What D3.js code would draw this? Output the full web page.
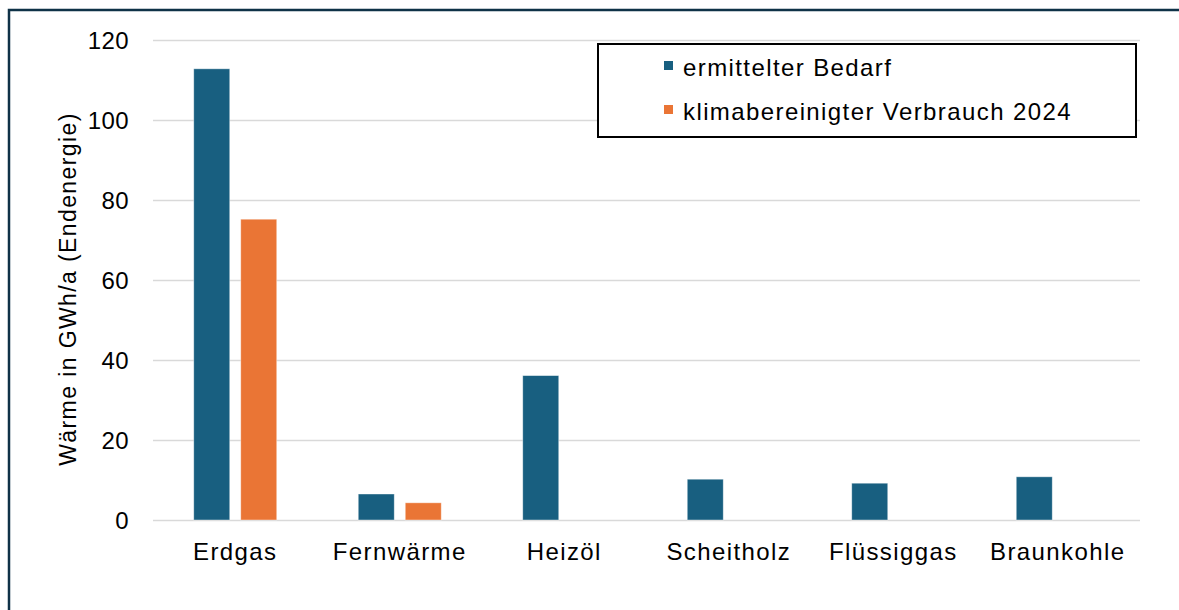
<!DOCTYPE html>
<html>
<head>
<meta charset="utf-8">
<title></title>
<script src="https://d3js.org/d3.v7.min.js"></script>
<style>
  body { margin: 0; background: #fff; font-family: "Liberation Sans", Arial, sans-serif; }
  svg { display: block; }
  .grid line { stroke: #d9d9d9; stroke-width: 1.4; }
  .grid .domain { display: none; }
</style>
</head>
<body>
<script>
// data
const categories = ["Erdgas", "Fernwärme", "Heizöl", "Scheitholz", "Flüssiggas", "Braunkohle"];
const bedarf = [112.8, 6.5, 36.1, 10.2, 9.2, 10.8];
const verbrauch = [75.2, 4.3, null, null, null, null];
const seriesNames = ["ermittelter Bedarf", "klimabereinigter Verbrauch 2024"];
const yTicks = [0, 20, 40, 60, 80, 100, 120];

const W = 1179, H = 610;
const margin = { left: 153, right: 39, top: 40, bottom: 90 };
const colors = ["#185f80", "#ea7535"];

const svg = d3.select("body").append("svg")
  .attr("width", W).attr("height", H);

// outer frame (left + top only)
svg.append("path")
  .attr("d", "M9,610 V10 H1179")
  .attr("fill", "none")
  .attr("stroke", "#0f3247")
  .attr("stroke-width", 2.5);

const x = d3.scaleBand()
  .domain(categories)
  .range([margin.left, W - margin.right]);

const y = d3.scaleLinear()
  .domain([0, 120])
  .range([H - margin.bottom, margin.top]);

// gridlines
svg.append("g")
  .attr("class", "grid")
  .attr("transform", "translate(" + margin.left + ",0)")
  .call(d3.axisLeft(y).tickValues(yTicks).tickSize(-(W - margin.left - margin.right)).tickFormat(""));

// y tick labels
svg.append("g").selectAll("text")
  .data(yTicks)
  .enter().append("text")
  .attr("x", 129)
  .attr("y", d => y(d))
  .attr("dy", "0.36em")
  .attr("text-anchor", "end")
  .attr("font-size", 24)
  .attr("letter-spacing", 0.4)
  .attr("fill", "#000")
  .text(d => d);

// y title
svg.append("text")
  .attr("transform", "translate(76,289) rotate(-90)")
  .attr("text-anchor", "middle")
  .attr("font-size", 23)
  .attr("letter-spacing", 1.4)
  .attr("fill", "#000")
  .text("Wärme in GWh/a (Endenergie)");

// bars
const barW = 36, gap = 11;
const series = [bedarf, verbrauch];
series.forEach(function (vals, s) {
  svg.append("g").selectAll("rect")
    .data(categories.map((c, i) => ({ c: c, v: vals[i] })).filter(d => d.v != null))
    .enter().append("rect")
    .attr("x", d => x(d.c) + x.bandwidth() / 2 + (s === 0 ? -gap / 2 - barW : gap / 2))
    .attr("y", d => y(d.v))
    .attr("width", barW)
    .attr("height", d => y(0) - y(d.v))
    .attr("fill", colors[s])
    .attr("stroke", "#ffffff")
    .attr("stroke-opacity", 0.5)
    .attr("stroke-width", 0.8);
});

// x labels
svg.append("g").selectAll("text")
  .data(categories)
  .enter().append("text")
  .attr("x", d => x(d) + x.bandwidth() / 2)
  .attr("y", 560)
  .attr("text-anchor", "middle")
  .attr("font-size", 24)
  .attr("letter-spacing", 1.4)
  .attr("fill", "#000")
  .text(d => d);

// legend
const lg = svg.append("g");
lg.append("rect")
  .attr("x", 598).attr("y", 44)
  .attr("width", 538).attr("height", 93)
  .attr("fill", "#fff")
  .attr("stroke", "#000")
  .attr("stroke-width", 2);

seriesNames.forEach(function (name, i) {
  const ly = 68 + i * 44;
  lg.append("rect")
    .attr("x", 664).attr("y", ly - 7)
    .attr("width", 9).attr("height", 9)
    .attr("fill", colors[i]);
  lg.append("text")
    .attr("x", 683).attr("y", ly)
    .attr("dy", "0.32em")
    .attr("font-size", 24)
    .attr("letter-spacing", 1.4)
    .attr("fill", "#000")
    .text(name);
});
</script>
</body>
</html>
